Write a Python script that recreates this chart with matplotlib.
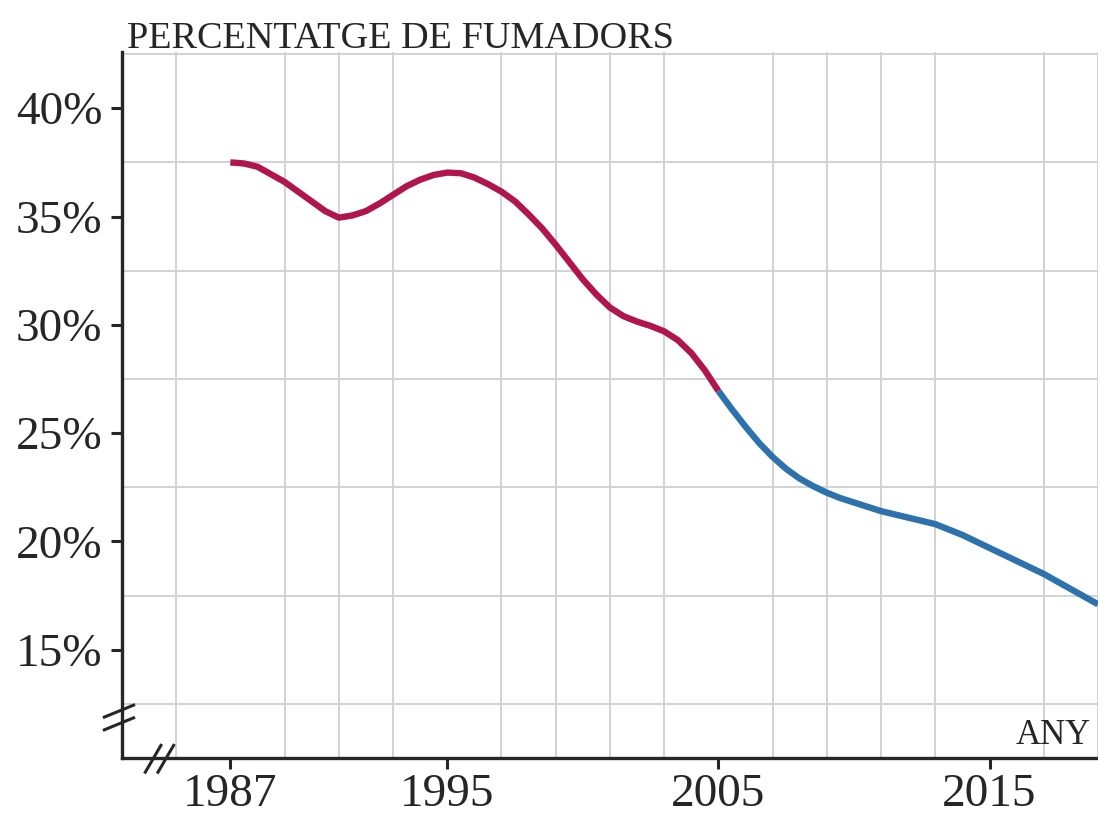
import matplotlib
matplotlib.use("Agg")
import matplotlib.pyplot as plt
from matplotlib.ticker import FixedLocator, FuncFormatter
import numpy as np

# ---- data (every half year) ----
years = [1987, 1987.5, 1988, 1988.5, 1989, 1989.5, 1990, 1990.5, 1991, 1991.5,
         1992, 1992.5, 1993, 1993.5, 1994, 1994.5, 1995, 1995.5, 1996, 1996.5,
         1997, 1997.5, 1998, 1998.5, 1999, 1999.5, 2000, 2000.5, 2001, 2001.5,
         2002, 2002.5, 2003, 2003.5, 2004, 2004.5, 2005, 2005.5, 2006, 2006.5,
         2007, 2007.5, 2008, 2008.5, 2009, 2009.5, 2010, 2010.5, 2011, 2011.5,
         2012, 2012.5, 2013, 2013.5, 2014, 2014.5, 2015, 2015.5, 2016, 2016.5,
         2017, 2017.5, 2018, 2018.5, 2019]
pct = [37.5, 37.45, 37.3, 36.95, 36.6, 36.15, 35.7, 35.25, 34.95, 35.05,
       35.25, 35.6, 36.0, 36.4, 36.7, 36.92, 37.03, 37.0, 36.8, 36.5,
       36.15, 35.7, 35.1, 34.45, 33.7, 32.9, 32.1, 31.4, 30.8, 30.4,
       30.15, 29.95, 29.7, 29.3, 28.7, 27.9, 26.95, 26.1, 25.3, 24.55,
       23.9, 23.35, 22.9, 22.55, 22.25, 22.0, 21.8, 21.6, 21.4, 21.25,
       21.1, 20.95, 20.8, 20.55, 20.3, 20.0, 19.7, 19.4, 19.1, 18.8,
       18.5, 18.15, 17.8, 17.45, 17.1]
split_year = 2005
x_tick_years = [1987, 1995, 2005, 2015]
y_tick_values = [15, 20, 25, 30, 35, 40]
title_text = "PERCENTATGE DE FUMADORS"
x_label_text = "ANY"

RED = "#b0164c"
BLUE = "#2d72ad"
INK = "#262626"
GRID = "#d2d2d2"

plt.rcParams['font.family'] = ['Liberation Serif', 'DejaVu Serif']

fig = plt.figure(figsize=(10.98, 8.24), dpi=100)
ax = fig.add_axes([0.111, 0.080, 0.889, 0.857])

yrs = np.array(years)
vals = np.array(pct)
m1 = yrs <= split_year
m2 = yrs >= split_year
ax.plot(yrs[m1], vals[m1], color=RED, lw=4.6, solid_capstyle='butt',
        solid_joinstyle='round', zorder=3)
ax.plot(yrs[m2], vals[m2], color=BLUE, lw=4.6, solid_capstyle='butt',
        solid_joinstyle='round', zorder=3)

ax.set_xlim(1983, 2019)
ax.set_ylim(10, 42.6)

ax.xaxis.set_major_locator(FixedLocator(x_tick_years))
ax.yaxis.set_major_locator(FixedLocator(y_tick_values))
ax.xaxis.set_minor_locator(FixedLocator(np.arange(1985, 2020, 2)))
ax.yaxis.set_minor_locator(FixedLocator(np.arange(12.5, 43, 2.5)))
ax.yaxis.set_major_formatter(FuncFormatter(lambda v, p: f"{v:.0f}%"))

ax.grid(which='minor', color=GRID, lw=1.4)
ax.grid(which='major', visible=False)
ax.set_axisbelow(True)

ax.tick_params(which='minor', length=0)
ax.tick_params(which='major', direction='out', length=8, width=2.2,
               color=INK, labelcolor=INK, labelsize=34)
ax.tick_params(axis='y', which='major', pad=6)
ax.tick_params(axis='x', which='major', pad=3)

for s in ['top', 'right']:
    ax.spines[s].set_visible(False)
for s in ['left', 'bottom']:
    ax.spines[s].set_color(INK)
    ax.spines[s].set_linewidth(2.4)

# axis break marks
trans = ax.transAxes
bk = dict(color=INK, lw=2.2, transform=trans, clip_on=False, zorder=5)
for dy in (0.0, -0.018):
    ax.plot([-0.018, 0.012], [0.058 + dy, 0.075 + dy], **bk)
for dx in (0.0, 0.013):
    ax.plot([0.024 + dx, 0.040 + dx], [-0.02, 0.018], **bk)

ax.text(0.993, 0.008, x_label_text, transform=trans, ha='right', va='bottom',
        fontsize=25, color=INK)
fig.text(0.1157, 0.942, title_text, ha='left', va='baseline', fontsize=27.5,
         color=INK)

fig.savefig("out.png", dpi=100, facecolor='white')
